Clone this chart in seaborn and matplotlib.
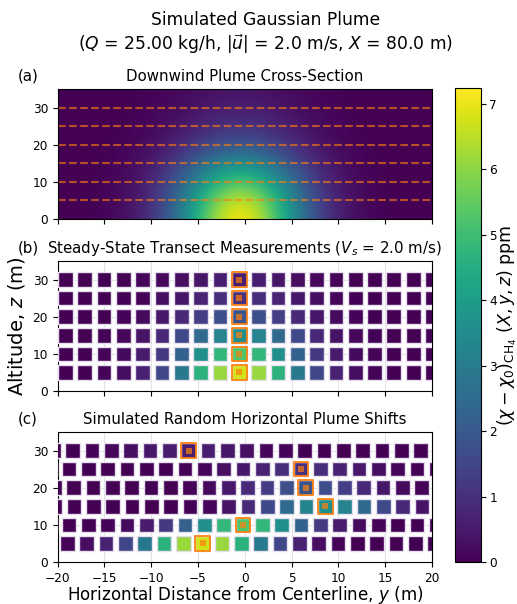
import numpy as np
import pandas as pd
import matplotlib
matplotlib.use("Agg")
import matplotlib.pyplot as plt
from matplotlib.transforms import offset_copy
import seaborn as sns

# ---------------- data ----------------
z_levels = [0, 5, 10, 15, 20, 25, 30, 35]
y_samples = [-29.51, -27.45, -25.38, -23.32, -21.25, -19.19, -17.12, -15.06,
             -12.99, -10.93, -8.86, -6.80, -4.73, -2.67, -0.60, 1.47, 3.53,
             5.60, 7.66, 9.73, 11.79, 13.86, 15.92, 17.99, 20.05, 22.12,
             24.18, 26.25, 28.31, 30.38]
# concentration (ppm) at each altitude (rows) and sample position (columns)
conc_rows = [
    [0, 0, 0, 0, 0, 0.00, 0.02, 0.08, 0.26, 0.71, 1.64, 3.14, 5.00, 6.60, 7.24,
     6.60, 5.00, 3.14, 1.64, 0.71, 0.26, 0.08, 0.02, 0.00, 0, 0, 0, 0, 0, 0],
    [0, 0, 0, 0, 0, 0.00, 0.02, 0.07, 0.24, 0.66, 1.53, 2.93, 4.65, 6.14, 6.74,
     6.14, 4.65, 2.93, 1.53, 0.66, 0.24, 0.07, 0.02, 0.00, 0, 0, 0, 0, 0, 0],
    [0, 0, 0, 0, 0, 0.00, 0.01, 0.06, 0.19, 0.52, 1.19, 2.28, 3.62, 4.78, 5.25,
     4.78, 3.62, 2.28, 1.19, 0.52, 0.19, 0.06, 0.01, 0.00, 0, 0, 0, 0, 0, 0],
    [0, 0, 0, 0, 0, 0.00, 0.01, 0.04, 0.13, 0.35, 0.82, 1.56, 2.48, 3.28, 3.60,
     3.28, 2.48, 1.56, 0.82, 0.35, 0.13, 0.04, 0.01, 0.00, 0, 0, 0, 0, 0, 0],
    [0, 0, 0, 0, 0, 0.00, 0.01, 0.02, 0.07, 0.19, 0.43, 0.82, 1.31, 1.73, 1.90,
     1.73, 1.31, 0.82, 0.43, 0.19, 0.07, 0.02, 0.01, 0.00, 0, 0, 0, 0, 0, 0],
    [0, 0, 0, 0, 0, 0.00, 0.00, 0.01, 0.04, 0.10, 0.23, 0.44, 0.70, 0.93, 1.02,
     0.93, 0.70, 0.44, 0.23, 0.10, 0.04, 0.01, 0.00, 0.00, 0, 0, 0, 0, 0, 0],
    [0, 0, 0, 0, 0, 0.00, 0.00, 0.01, 0.02, 0.06, 0.14, 0.26, 0.41, 0.55, 0.60,
     0.55, 0.41, 0.26, 0.14, 0.06, 0.02, 0.01, 0.00, 0.00, 0, 0, 0, 0, 0, 0],
    [0, 0, 0, 0, 0, 0.00, 0.00, 0.00, 0.01, 0.03, 0.08, 0.15, 0.24, 0.32, 0.35,
     0.32, 0.24, 0.15, 0.08, 0.03, 0.01, 0.00, 0.00, 0.00, 0, 0, 0, 0, 0, 0],
]
transect_z = [5, 10, 15, 20, 25, 30]
row_shifts = [-3.9, 0.4, 9.2, 7.1, 6.6, -5.4]   # random horizontal plume shifts (m)
x_ticks = [-20, -15, -10, -5, 0, 5, 10, 15, 20]
z_ticks = [0, 10, 20, 30]
cbar_ticks = [0, 1, 2, 3, 4, 5, 6, 7]
vmax = 7.245

# ---------------- style ----------------
sns.set_style("ticks")
plt.rcParams.update({
    "font.family": ["DejaVu Sans"],
    "axes.edgecolor": "black",
    "xtick.color": "black",
    "ytick.color": "black",
    "text.color": "black",
    "axes.labelcolor": "black",
    "xtick.labelsize": 8.7,
    "ytick.labelsize": 8.7,
    "xtick.major.size": 3.5,
    "ytick.major.size": 3.5,
})

W, H = 517, 604
fig = plt.figure(figsize=(W / 100, H / 100), dpi=100)
left = 57.7 / W
width = (432 - 57.7) / W
hgt = 130 / H
ax_a = fig.add_axes([left, 1 - 219 / H, width, hgt])
ax_b = fig.add_axes([left, 1 - 391 / H, width, hgt])
ax_c = fig.add_axes([left, 1 - 562 / H, width, hgt])
cax = fig.add_axes([455 / W, 1 - 562 / H, 26 / W, (562 - 88) / H])

cmap = plt.get_cmap("viridis")
orange = "#ff7f0e"

# ---- panel (a): plume cross-section ----
grid = np.array(conc_rows)
dy = y_samples[1] - y_samples[0]
dz = z_levels[1] - z_levels[0]
extent = (y_samples[0] - dy / 2, y_samples[-1] + dy / 2,
          z_levels[0] - dz / 2, z_levels[-1] + dz / 2)
ax_a.imshow(grid, origin="lower", extent=extent, cmap=cmap, vmin=0, vmax=vmax,
            interpolation="bicubic", interpolation_stage="data", aspect="auto")
for z in transect_z:
    ax_a.axhline(z, color=orange, ls="--", lw=1.5, alpha=0.62)

# ---- long-form tables for panels (b) and (c) ----
rec_b, rec_c, hi_b, hi_c = [], [], [], []
for r, z in enumerate(transect_z):
    vals = conc_rows[z_levels.index(z)]
    jmax = int(np.argmax(vals))
    for j, yv in enumerate(y_samples):
        rec_b.append((yv, z, vals[j]))
        rec_c.append((yv + row_shifts[r], z, vals[j]))
    hi_b.append((y_samples[jmax], z))
    hi_c.append((y_samples[jmax] + row_shifts[r], z))
df_b = pd.DataFrame(rec_b, columns=["y", "z", "conc"])
df_c = pd.DataFrame(rec_c, columns=["y", "z", "conc"])

for ax, df, hi in [(ax_b, df_b, hi_b), (ax_c, df_c, hi_c)]:
    ax.grid(True, color="#e3e3e3", lw=0.8)
    ax.set_axisbelow(True)
    sns.scatterplot(data=df, x="y", y="z", hue="conc", palette="viridis",
                    hue_norm=(0, vmax), marker="s", s=112, edgecolor="#e6e0ee",
                    linewidth=1.0, legend=False, ax=ax, zorder=3)
    hx = [p[0] for p in hi]
    hz = [p[1] for p in hi]
    ax.scatter(hx, hz, marker="s", s=112, facecolors="none", edgecolors=orange,
               linewidths=1.4, alpha=0.9, zorder=4)
    ax.scatter(hx, hz, marker="s", s=15, color=orange, alpha=0.7, lw=0, zorder=5)

for ax in (ax_a, ax_b, ax_c):
    ax.set_xlim(-20, 20)
    ax.set_ylim(0, 35)
    ax.set_xticks(x_ticks)
    ax.set_yticks(z_ticks)
    ax.set_xlabel("")
    ax.set_ylabel("")
ax_a.tick_params(labelbottom=False)
ax_b.tick_params(labelbottom=False)

title_fs = 10.8
ax_a.set_title("Downwind Plume Cross-Section", fontsize=title_fs)
ax_b.set_title(r"Steady-State Transect Measurements ($V_s$ = 2.0 m/s)", fontsize=title_fs)
ax_c.set_title("Simulated Random Horizontal Plume Shifts", fontsize=title_fs)
for ax, lab in [(ax_a, "(a)"), (ax_b, "(b)"), (ax_c, "(c)")]:
    tr = offset_copy(ax.transAxes, fig=fig, x=0, y=6, units="points")
    ax.text(-0.106, 1.0, lab, transform=tr, fontsize=title_fs, va="baseline", ha="left")

ax_b.set_ylabel(r"Altitude, $z$ (m)", fontsize=14)
ax_c.set_xlabel(r"Horizontal Distance from Centerline, $y$ (m)", fontsize=12.1,
                labelpad=-0.6)

# ---- colorbar ----
sm = plt.cm.ScalarMappable(norm=plt.Normalize(0, vmax), cmap=cmap)
cb = fig.colorbar(sm, cax=cax)
cb.set_ticks(cbar_ticks)
cb.ax.tick_params(labelsize=8.7, pad=2.5)
cb.set_label(r"$(\chi - \chi_0)_{\mathrm{CH_4}}$ $(X, y, z)$ ppm", fontsize=12.5,
             labelpad=-0.5)

fig.suptitle("Simulated Gaussian Plume\n"
             r"($Q$ = 25.00 kg/h, $|\vec{u}|$ = 2.0 m/s, $X$ = 80.0 m)",
             x=0.513, y=0.982, va="top", fontsize=12.3)

fig.savefig("out.png", dpi=100)
